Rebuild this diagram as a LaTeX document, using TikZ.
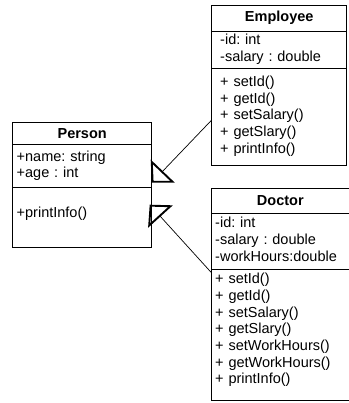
\documentclass[tikz,border=0pt]{standalone}
\usepackage{fontspec}
\setmainfont{Liberation Sans}
\frenchspacing
\usetikzlibrary{arrows.meta,positioning}
\tikzset{
	umlpart/.style={draw, outer sep=0pt, inner ysep=0pt},
	umltitle/.style={umlpart, align=center, font=\fontsize{14.5}{16.7}\selectfont\bfseries},
	umlmembers/.style={umlpart, align=left},
	inherit/.style={-{Triangle[open,length=16pt,width=33pt,line width=1.9pt]}, line width=0.7pt}
}

\begin{document}
\begin{tikzpicture}[x=1pt,y=-1pt,line width=0.9pt,
		font=\fontsize{14.5}{16.7}\selectfont]
	\useasboundingbox (0,0) rectangle (348,403);

	% Person
	\node[umltitle, anchor=north west, text width=131pt, inner xsep=4pt,
		minimum height=22pt] (person) at (12.7,122.7) {Person};
	\node[umlmembers, below=0pt of person, text width=131pt, inner xsep=4pt,
		minimum height=43pt] (personattr) {
		\begin{tabular}{@{}l@{}}
			+name: string \\
			+age : int
		\end{tabular}};
	\node[umlmembers, below=0pt of personattr, text width=131pt, inner xsep=4pt,
		minimum height=60pt] (personops) {
		\begin{tabular}{@{}l@{}}
			+printInfo() \\[8pt]
		\end{tabular}};

	% Employee
	\node[umltitle, anchor=north west, text width=118pt, inner xsep=8.5pt,
		minimum height=26pt] (employee) at (211.7,5) {Employee};
	\node[umlmembers, below=0pt of employee, text width=118pt, inner xsep=8.5pt,
		minimum height=37pt] (empattr) {
		\begin{tabular}{@{}l@{}}
			-id: int \\
			-salary : double
		\end{tabular}};
	\node[umlmembers, below=0pt of empattr, text width=118pt, inner xsep=8.5pt,
		minimum height=97pt] (empops) {
		\begin{tabular}{@{}l@{}}
			+ setId() \\
			+ getId() \\
			+ setSalary() \\
			+ getSlary() \\
			+ printInfo()
		\end{tabular}};

	% Doctor
	\node[umltitle, anchor=north west, text width=130.3pt, inner xsep=3.5pt,
		minimum height=25pt] (doctor) at (211.7,188) {Doctor};
	\node[umlmembers, below=0pt of doctor, text width=130.3pt, inner xsep=3.5pt,
		minimum height=56pt] (docattr) {
		\begin{tabular}{@{}l@{}}
			-id: int \\
			-salary : double \\
			-workHours:double
		\end{tabular}};
	\node[umlmembers, below=0pt of docattr, text width=130.3pt, inner xsep=3.5pt,
		minimum height=131pt] (docops) {
		\begin{tabular}{@{}l@{}}
			+ setId() \\
			+ getId() \\
			+ setSalary() \\
			+ getSlary() \\
			+ setWorkHours() \\
			+ getWorkHours() \\
			+ printInfo() \\[8pt]
		\end{tabular}};

	% inheritance
	\draw[inherit] ([yshift=-52pt]empops.north west) -- ([yshift=5pt]personattr.south east);
	\draw[inherit] ([yshift=-4pt]docops.north west) -- ([xshift=-2pt,yshift=-17pt]personops.north east);
\end{tikzpicture}
\end{document}
